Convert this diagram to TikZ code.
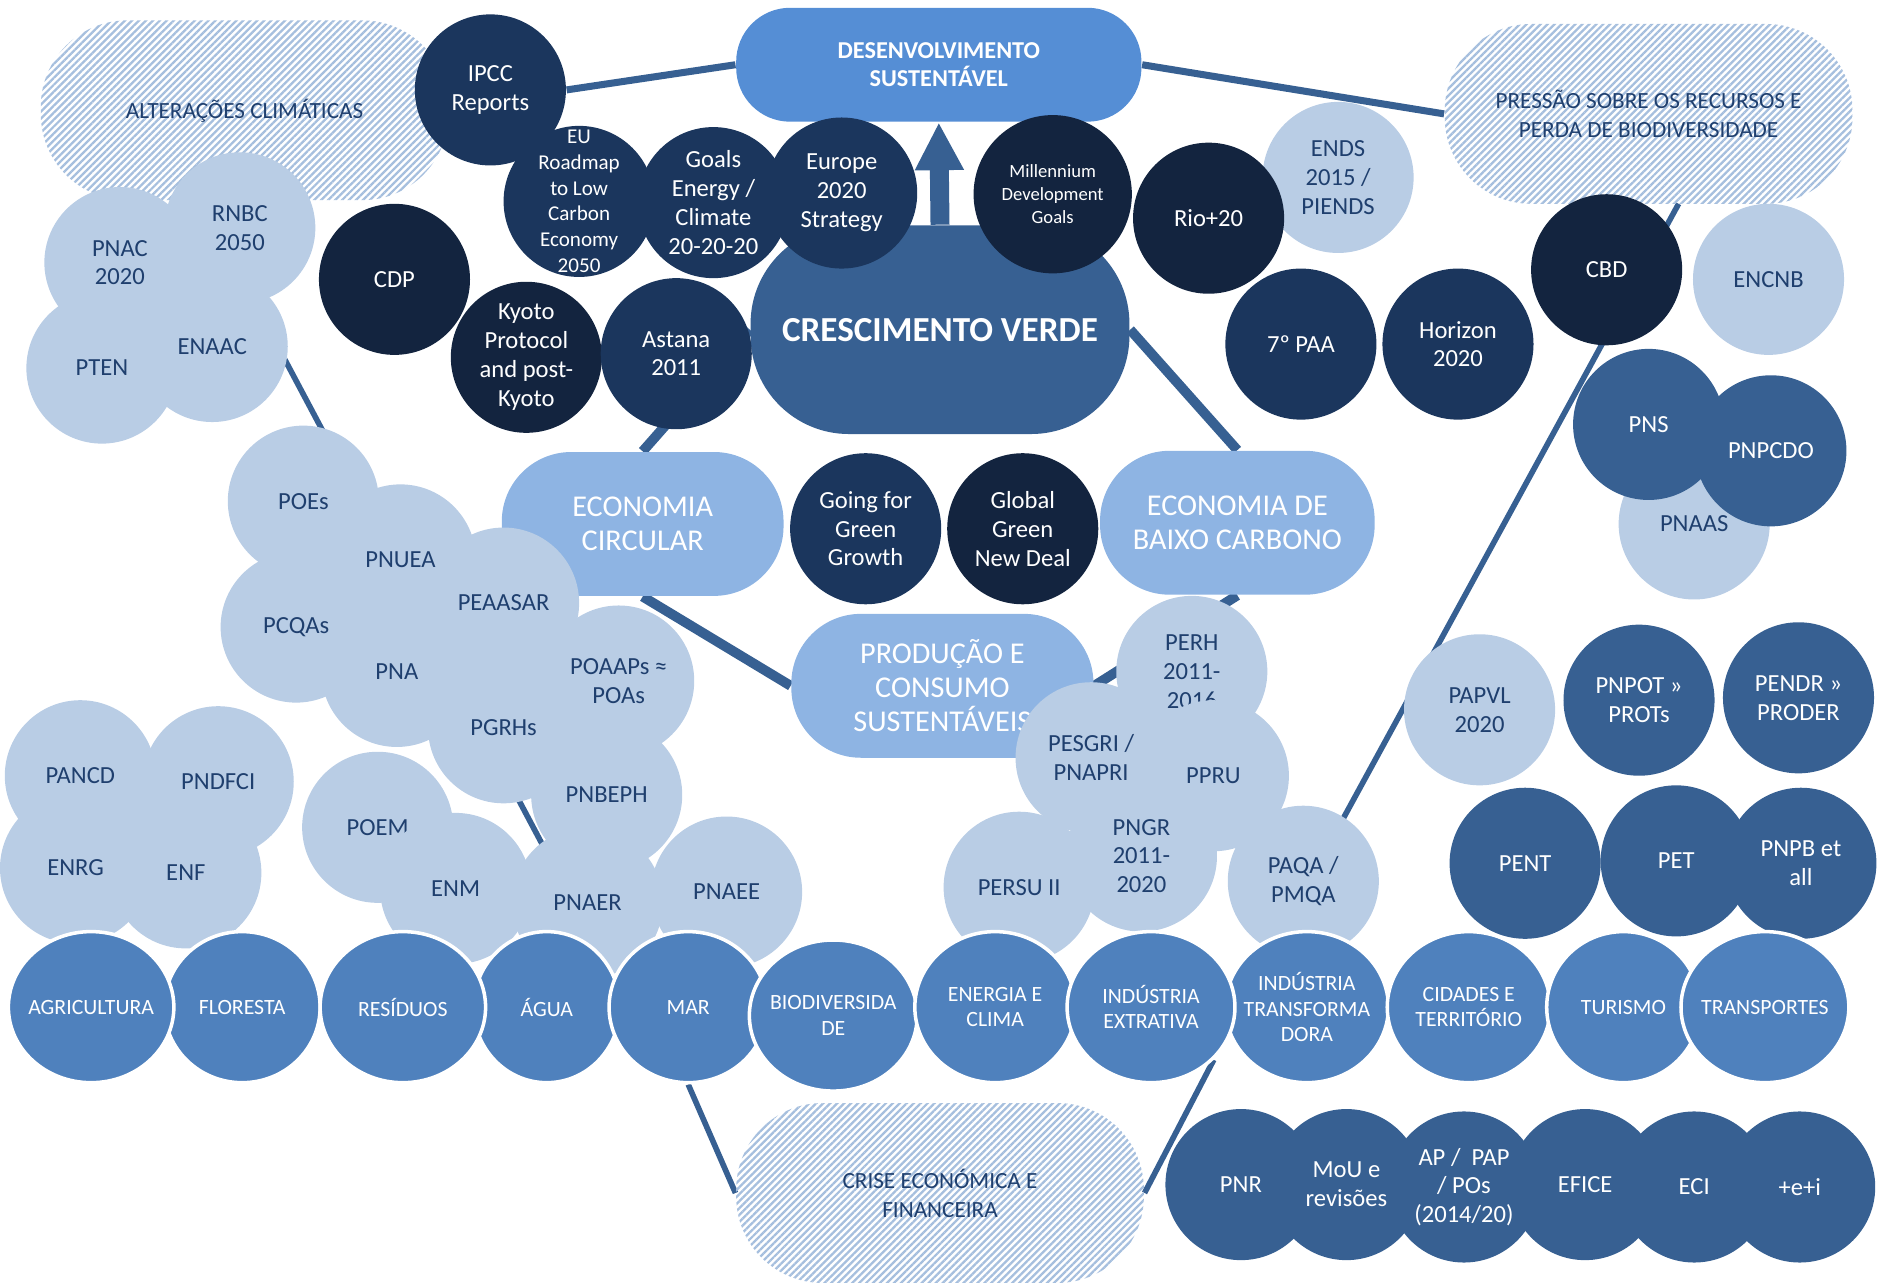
\documentclass[tikz,border=0pt]{standalone}
\usepackage{fontspec}
\setmainfont{Carlito}
\usepackage{tikz}
\usetikzlibrary{arrows.meta,backgrounds,patterns.meta,positioning,shapes.geometric}
\definecolor{dsblue}{HTML}{558ED5}
\definecolor{cvblue}{HTML}{376092}
\definecolor{ecoblue}{HTML}{8EB4E3}
\definecolor{lightblue}{HTML}{B9CDE5}
\definecolor{secblue}{HTML}{4F81BD}
\definecolor{navy}{HTML}{1B365D}
\definecolor{deepnavy}{HTML}{13243F}
\definecolor{hatch}{HTML}{A6BFDE}
\definecolor{ink}{HTML}{1F3F6E}
\newlength\unitpx
\setlength\unitpx{0.01199cm}
\newcommand\fsz[2]{\fontsize{#1}{#2}\selectfont}

\begin{document}
\begin{tikzpicture}[x=\unitpx,y=-\unitpx,
  bub/.style={circle,inner sep=-4pt,minimum size=126\unitpx,align=center,font=\fsz{7}{8.2}},
  litebub/.style={bub,fill=lightblue,text=ink},
  navybub/.style={bub,fill=navy,text=white},
  deepbub/.style={bub,fill=deepnavy,text=white},
  midbub/.style={bub,fill=cvblue,text=white},
  sector/.style={ellipse,inner xsep=-8pt,inner ysep=0pt,minimum width=#1\unitpx,minimum height=126\unitpx,
    fill=secblue,draw=white,line width=1pt,text=white,align=center,font=\fsz{6.2}{7.2}},
  pill/.style={rectangle,rounded corners=58\unitpx,minimum width=#1\unitpx,minimum height=120\unitpx,
    fill=ecoblue,text=white,align=center,font=\fsz{8.6}{9.7}},
  hatchcloud/.style={rectangle,rounded corners=72\unitpx,minimum width=340\unitpx,minimum height=150\unitpx,
    pattern={Lines[angle=45,distance=1.4pt,line width=0.65pt]},pattern color=hatch,
    text=ink,align=center,font=\fsz{6.6}{8.2}},
  link/.style={cvblue,line width=2.8pt},
  thinlink/.style={cvblue,line width=1.6pt}]
  \useasboundingbox (0,0) rectangle (1568,1073);

  % pressures
  \node[hatchcloud] (alter) at (204,92) {ALTERAÇÕES CLIMÁTICAS};
  \node[hatchcloud] (pressao) at (1375,95) {PRESSÃO SOBRE OS RECURSOS E\\PERDA DE BIODIVERSIDADE};
  \node[hatchcloud] (crise) at (784,995) {CRISE ECONÓMICA E\\FINANCEIRA};

  % core
  \node[fill=dsblue,rounded corners=45\unitpx,minimum width=338\unitpx,minimum height=95\unitpx,
    text=white,align=center,font=\bfseries\fsz{6.9}{8.2}] (desenv) at (783,54) {DESENVOLVIMENTO\\SUSTENTÁVEL};
  \node[fill=cvblue,rounded corners=82\unitpx,minimum width=316\unitpx,minimum height=174\unitpx,
    text=white,font=\bfseries\fsz{10}{12}] (cresc) at (784,275) {CRESCIMENTO VERDE};
  \draw[cvblue,line width=5.4pt,-{Triangle[width=13pt,length=13.6pt]}] (cresc.north) -- (desenv.south);
  \node[pill=235] (ecocirc) at (536,437) {ECONOMIA\\CIRCULAR};
  \node[pill=229] (ecobaixo) at (1032,436) {ECONOMIA DE\\BAIXO CARBONO};
  \node[pill=252] (producao) at (786,572) {PRODUÇÃO E\\CONSUMO\\SUSTENTÁVEIS};

  % international references
  \node[navybub] (ipcc) at (409,75) {IPCC\\Reports};
  \node[navybub,font=\fsz{6}{7.3}] (roadmap) at (483,168) {EU\\Roadmap\\to Low\\Carbon\\Economy\\2050};
  \node[navybub] (goals) at (595,169) {Goals\\Energy /\\Climate\\20-20-20};
  \node[navybub] (europe) at (702,161) {Europe\\2020\\Strategy};
  \node[deepbub] (cdp) at (329,233) {CDP};
  \node[deepbub] (kyoto) at (439,298) {Kyoto\\Protocol\\and post-\\Kyoto};
  \node[navybub] (astana) at (564,295) {Astana\\2011};
  \node[deepbub,minimum size=132\unitpx,font=\fsz{5.3}{6.5}] (mdg) at (878,162) {Millennium\\Development\\Goals};
  \node[litebub] (ends) at (1116,148) {ENDS\\2015 /\\PIENDS};
  \node[deepbub] (rio) at (1008,182) {Rio+20};
  \node[navybub] (paa) at (1085,287) {7º PAA};
  \node[navybub] (horizon) at (1216,287) {Horizon\\2020};
  \node[deepbub] (cbd) at (1340,225) {CBD};
  \node[litebub] (encnb) at (1475,233) {ENCNB};
  \node[navybub] (goinggreen) at (722,441) {Going for\\Green\\Growth};
  \node[deepbub] (gnd) at (853,441) {Global\\Green\\New Deal};

  % national plans
  \node[litebub] (pnac) at (100,219) {PNAC\\2020};
  \node[litebub] (rnbc) at (200,190) {RNBC\\2050};
  \node[litebub] (pten) at (85,307) {PTEN};
  \node[litebub] (enaac) at (177,289) {ENAAC};

  \node[litebub] (poes) at (253,418) {POEs};
  \node[litebub] (pnuea) at (334,467) {PNUEA};
  \node[litebub] (pcqas) at (247,523) {PCQAs};
  \node[litebub] (peaasar) at (420,503) {PEAASAR};
  \node[litebub] (pna) at (331,560) {PNA};
  \node[litebub] (poaaps) at (516,568) {POAAPs ≈\\POAs};
  \node[litebub] (pgrhs) at (420,607) {PGRHs};
  \node[litebub] (pnbeph) at (506,663) {PNBEPH};

  \node[litebub] (pancd) at (67,647) {PANCD};
  \node[litebub] (pndfci) at (182,652) {PNDFCI};
  \node[litebub] (enrg) at (63,724) {ENRG};
  \node[litebub] (enf) at (155,728) {ENF};

  \node[litebub] (poem) at (315,690) {POEM};
  \node[litebub] (enm) at (380,741) {ENM};
  \node[litebub] (pnaer) at (490,753) {PNAER};
  \node[litebub] (pnaee) at (606,744) {PNAEE};

  \node[litebub] (perh) at (994,560) {PERH\\2011-\\2016};
  \node[litebub] (pesgri) at (910,632) {PESGRI /\\PNAPRI};
  \node[litebub] (ppru) at (1012,647) {PPRU};
  \node[litebub] (persu) at (850,740) {PERSU II};
  \node[litebub] (pngr) at (952,714) {PNGR\\2011-\\2020};
  \node[litebub] (paqa) at (1087,735) {PAQA /\\PMQA};

  \node[litebub] (pnaas) at (1413,437) {PNAAS};
  \node[midbub] (pns) at (1375,354) {PNS};
  \node[midbub] (pnpcdo) at (1477,376) {PNPCDO};

  \node[litebub] (papvl) at (1234,592) {PAPVL\\2020};
  \node[midbub] (pnpot) at (1367,584) {PNPOT »\\PROTs};
  \node[midbub] (pendr) at (1500,582) {PENDR »\\PRODER};
  \node[midbub] (pent) at (1272,720) {PENT};
  \node[midbub] (pet) at (1398,718) {PET};
  \node[midbub] (pnpb) at (1502,720) {PNPB et\\all};

  % sectors
  \node[sector=130] (flor) at (202,840) {FLORESTA};
  \node[sector=138] (agri) at (76,840) {AGRICULTURA};
  \node[sector=122] (agua) at (456,840) {ÁGUA};
  \node[sector=138] (resid) at (336,840) {RESÍDUOS};
  \node[sector=132] (mar) at (574,840) {MAR};
  \node[sector=140] (bio) at (695,847) {BIODIVERSIDA\\DE};
  \node[sector=134] (energ) at (830,840) {ENERGIA E\\CLIMA};
  \node[sector=136] (indtrans) at (1090,840) {INDÚSTRIA\\TRANSFORMA\\DORA};
  \node[sector=140] (extrat) at (960,840) {INDÚSTRIA\\EXTRATIVA};
  \node[sector=136] (cidades) at (1225,840) {CIDADES E\\TERRITÓRIO};
  \node[sector=128] (turismo) at (1354,840) {TURISMO};
  \node[sector=140] (transp) at (1472,840) {TRANSPORTES};

  % economic instruments
  \node[midbub] (pnr) at (1035,988) {PNR};
  \node[midbub] (mou) at (1123,988) {MoU e\\revisões};
  \node[midbub] (ap) at (1221,990) {AP /~~PAP\\/ POs\\(2014/20)};
  \node[midbub] (efice) at (1322,988) {EFICE};
  \node[midbub] (eci) at (1413,990) {ECI};
  \node[midbub] (maisei) at (1501,990) {+e+i};

  \coordinate (altfoot) at (167,167);
  \coordinate (presfoot) at (1400,170);
  \begin{scope}[on background layer]
    \draw[link,line width=2pt] (ipcc.east) -- (desenv.west);
    \draw[link,line width=2pt] (desenv.east) -- (pressao.west);
    \draw[link] (cresc.west) -- (ecocirc.north);
    \draw[link] (cresc.east) -- (ecobaixo.north);
    \draw[link] (ecocirc.south) -- (producao.west);
    \draw[link] (ecobaixo.south) -- (producao.east);
    \draw[thinlink] (altfoot) -- (agua.north east);
    \draw[thinlink] (presfoot) -- (indtrans.110);
    \draw[thinlink] (mar.south) -- (crise.west);
    \draw[thinlink] (crise.east) -- (extrat.-40);
  \end{scope}
\end{tikzpicture}
\end{document}
